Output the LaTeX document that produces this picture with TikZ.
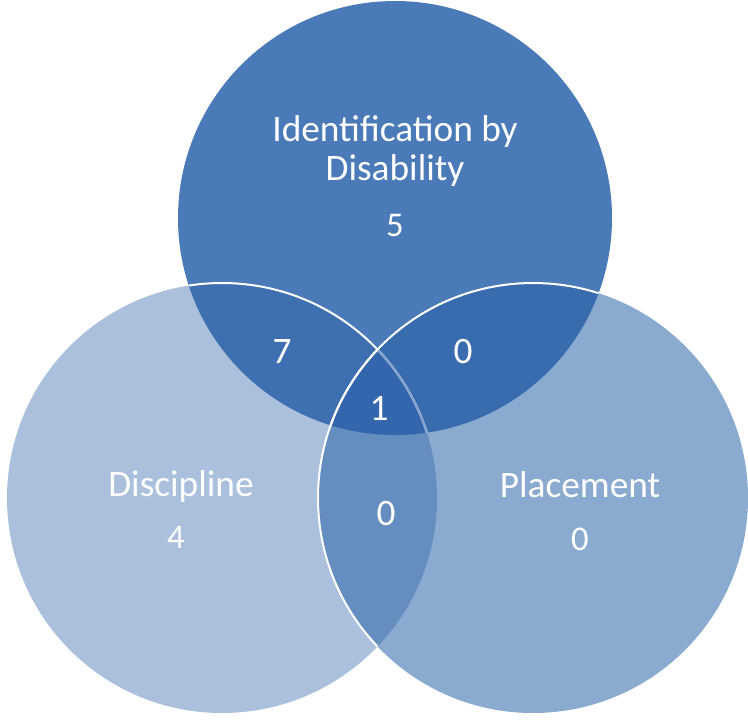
\documentclass[tikz,border=0pt]{standalone}
\usepackage{fontspec}
\setmainfont{Carlito}
\usepackage{tikz}
\usetikzlibrary{positioning}
\definecolor{topblue}{RGB}{74, 122, 183}
\definecolor{leftblue}{RGB}{170, 192, 220}
\definecolor{rightblue}{RGB}{138, 170, 207}
\definecolor{topleftblue}{RGB}{62, 112, 177}
\definecolor{toprightblue}{RGB}{57, 108, 175}
\definecolor{centreblue}{RGB}{51, 102, 172}
\definecolor{leftrightblue}{RGB}{100, 141, 192}
\tikzset{
    setname/.style={text=white, align=center, font=\fontsize{28}{29.25}\selectfont},
    setcount/.style={text=white, font=\fontsize{26}{28}\selectfont},
    overlapcount/.style={text=white, font=\fontsize{28}{30}\selectfont},
    rim/.style={draw=white, line width=1.5pt},
    faintrim/.style={draw=white!40!centreblue, line width=1.5pt}
}
\def\topcircle{(395,218) circle (217)}
\def\leftcircle{(222,498) circle (215)}
\def\rightcircle{(533,498) circle (215)}

\begin{document}
\begin{tikzpicture}[x=0.75pt, y=-0.75pt]
        \useasboundingbox (0,0) rectangle (748,719);

        % The three sets
        \fill[topblue] \topcircle;
        \fill[leftblue] \leftcircle;
        \fill[rightblue] \rightcircle;

        % Overlaps
        \begin{scope}
            \clip \topcircle;
            \fill[topleftblue] \leftcircle;
            \fill[toprightblue] \rightcircle;
        \end{scope}
        \begin{scope}
            \clip \leftcircle;
            \fill[leftrightblue] \rightcircle;
        \end{scope}
        \begin{scope}
            \clip \topcircle;
            \clip \leftcircle;
            \fill[centreblue] \rightcircle;
        \end{scope}

        % White outlines
        \begin{scope}
            \clip \topcircle;
            \draw[rim] \leftcircle;
        \end{scope}
        \begin{scope}
            \clip \topcircle;
            \clip \rightcircle;
            \draw[faintrim] \leftcircle;
        \end{scope}
        \begin{scope}
            \clip \topcircle;
            \draw[rim] \rightcircle;
        \end{scope}
        \begin{scope}
            \clip \leftcircle;
            \draw[rim] \rightcircle;
        \end{scope}

        % Set names and counts
        \node[setname] (idname) at (395,151) {Identification by\\Disability};
        \node[setcount, anchor=base] (idcount) at (395,236) {5};
        \node[setname, anchor=base] (discname) at (181,496) {Discipline};
        \node[setcount, anchor=base] (disccount) at (176,548) {4};
        \node[setname, anchor=base] (placename) at (580,497) {Placement};
        \node[setcount, anchor=base] (placecount) at (580,550) {0};

        % Counts in the overlaps
        \node[overlapcount] (ovtl) at (282,352) {7};
        \node[overlapcount] (ovtr) at (463,351) {0};
        \node[overlapcount] (ovmid) at (379,408) {1};
        \node[overlapcount] (ovlr) at (386,513) {0};
    \end{tikzpicture}
\end{document}
